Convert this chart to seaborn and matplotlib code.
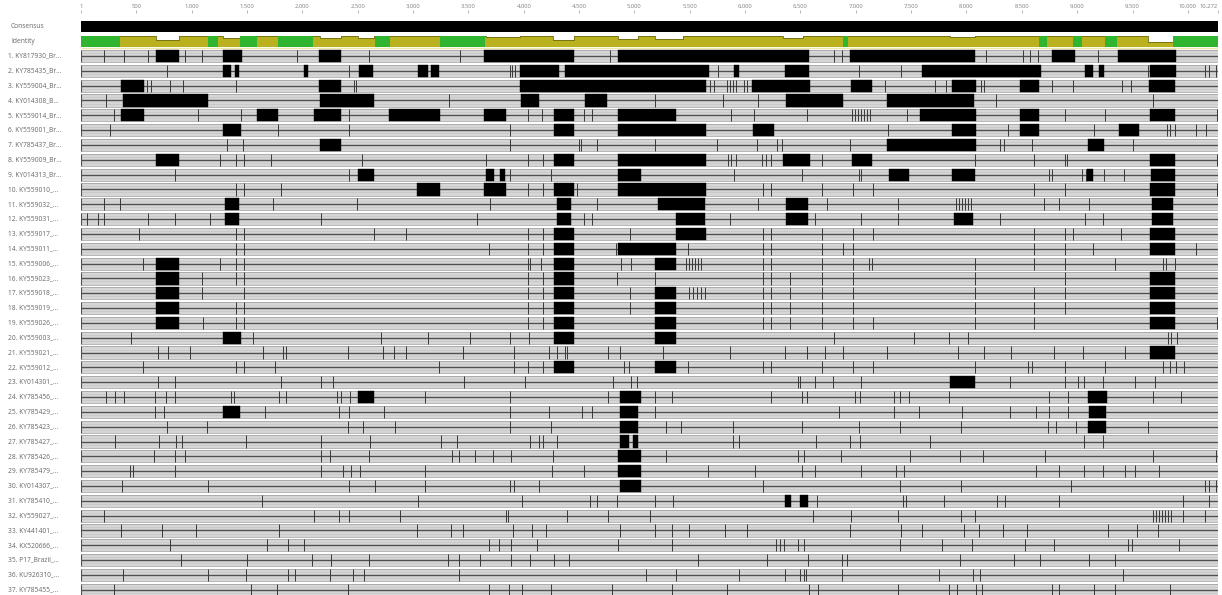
import matplotlib
matplotlib.use("Agg")
import matplotlib.pyplot as plt
import matplotlib.transforms as mtransforms
import seaborn as sns
import numpy as np

# alignment length and ruler
seq_length = 10272
ruler_ticks = [1, 500, 1000, 1500, 2000, 2500, 3000, 3500, 4000, 4500, 5000,
               5500, 6000, 6500, 7000, 7500, 8000, 8500, 9000, 9500, 10000, 10272]

seq_labels = [
    "1. KY817930_Br...", "2. KY785435_Br...", "3. KY559004_Br...", "4. KY014308_B...",
    "5. KY559014_Br...", "6. KY559001_Br...", "7. KY785437_Br...", "8. KY559009_Br...",
    "9. KY014313_Br...", "10. KY559010_...", "11. KY559032_...", "12. KY559031_...",
    "13. KY559017_...", "14. KY559011_...", "15. KY559006_...", "16. KY559023_...",
    "17. KY559018_...", "18. KY559019_...", "19. KY559026_...", "20. KY559003_...",
    "21. KY559021_...", "22. KY559012_...", "23. KY014301_...", "24. KY785456_...",
    "25. KY785429_...", "26. KY785423_...", "27. KY785427_...", "28. KY785426_...",
    "29. KY785479_...", "30. KY014307_...", "31. KY785410_...", "32. KY559027_...",
    "33. KY441401_...", "34. KX520666_...", "35. P17_Brazil_...", "36. KU926310_...",
    "37. KY785455_...",
]

# disagreeing regions (start, end) per sequence
block_spans = [
    [(680, 885), (1283, 1454), (2150, 2350), (3640, 4450), (4850, 6580), (6950, 8080), (8770, 8980), (9370, 9890)],
    [(1283, 1355), (1391, 1427), (2015, 2051), (2511, 2637), (3044, 3134), (3161, 3233), (3965, 4317),
     (4371, 5672), (5897, 5942), (6357, 6574), (7595, 8670), (9067, 9139), (9193, 9238), (9662, 9897)],
    [(362, 570), (2150, 2349), (3965, 5645), (6060, 6583), (6953, 7143), (7866, 8082), (8480, 8652), (9653, 9888)],
    [(380, 1148), (2159, 2647), (3974, 4137), (4553, 4752), (6367, 6882), (7279, 8065)],
    [(362, 570), (1590, 1780), (2105, 2349), (2782, 3243), (3640, 3839), (4272, 4452), (4850, 5374),
     (7577, 8082), (8480, 8652), (9662, 9888)],
    [(1283, 1445), (4272, 4452), (4850, 5645), (6069, 6259), (7866, 8082), (8480, 8652), (9374, 9554)],
    [(2159, 2349), (7279, 8082), (9094, 9238)],
    [(677, 885), (4272, 4452), (4850, 5645), (6340, 6583), (6962, 7143), (9662, 9888)],
    [(2502, 2647), (3659, 3731), (3785, 3830), (4850, 5058), (7297, 7478), (7866, 8074), (9085, 9139), (9671, 9888)],
    [(3035, 3243), (3640, 3839), (4272, 4452), (4850, 5645), (9662, 9888)],
    [(1302, 1428), (4301, 4427), (5213, 5638), (6370, 6568), (9680, 9870)],
    [(1302, 1428), (4301, 4427), (5374, 5638), (6370, 6568), (7884, 8056), (9680, 9870)],
    [(4272, 4452), (5374, 5645), (9662, 9888)],
    [(4272, 4452), (4850, 5374), (9662, 9888)],
    [(677, 885), (4272, 4452), (5186, 5374)],
    [(677, 885), (4272, 4452), (9662, 9888)],
    [(677, 885), (4272, 4452), (5186, 5374), (9662, 9888)],
    [(677, 885), (4272, 4452), (5186, 5374), (9662, 9888)],
    [(677, 885), (4272, 4452), (5186, 5374), (9662, 9888)],
    [(1283, 1445), (4272, 4452), (5186, 5374)],
    [(9662, 9888)],
    [(4272, 4452), (5186, 5374)],
    [(7850, 8074)],
    [(2502, 2647), (4868, 5058), (9094, 9266)],
    [(1283, 1436), (4868, 5031), (9103, 9257)],
    [(4868, 5031), (9094, 9257)],
    [(4868, 4950), (4986, 5031)],
    [(4850, 5058)],
    [(4850, 5058)],
    [(4868, 5058)],
    [(6357, 6412), (6493, 6566)],
    [], [], [], [], [], [],
]

# single-site differences per sequence
snp_sites = [
    [208, 388, 605, 939, 1093, 1951, 2601, 3423, 4777, 6800, 6872, 8172, 8506, 8570, 8642, 9184],
    [777, 2420, 3874, 3892, 3919, 5752, 7025, 7405, 9644, 10159, 10195, 10258],
    [597, 633, 805, 922, 1401, 2466, 2484, 5681, 5717, 5835, 5862, 5889, 5916, 5988, 6015, 7261, 7713,
     7812, 8128, 8155, 8769, 8959, 9401, 9482],
    [227, 3325, 5186, 5800, 6114, 8263, 9681],
    [299, 1058, 1446, 2421, 4037, 4164, 4543, 4615, 5871, 6078, 6557, 6962, 6989, 7016, 7043, 7070, 7097,
     7125, 7460, 8887, 9248, 10259],
    [263, 1780, 2421, 3875, 7288, 8372, 9148, 9807, 9834, 9888, 10069, 10168],
    [1319, 1463, 3875, 4498, 4516, 4660, 5184, 5744, 6105, 6286, 6331, 6945, 8300, 8336, 8590, 9500],
    [1256, 1401, 1473, 1717, 2538, 3658, 4037, 4172, 5843, 5870, 5915, 6150, 6186, 6231, 6692, 8074, 8607,
     8887, 8905, 10259],
    [850, 2421, 3875, 4245, 5898, 6512, 7026, 7044, 8742, 8769, 9040, 9076, 9239, 9420],
    [1401, 1473, 1807, 4037, 4172, 4480, 6160, 6233, 6692, 6972, 7153, 8607, 8887, 10259],
    [209, 353, 1735, 2494, 3695, 4660, 6115, 6738, 7379, 7905, 7932, 7959, 7986, 8013, 8040, 8697, 8832, 9103],
    [55, 155, 209, 606, 850, 1166, 2169, 3577, 4543, 4615, 5862, 6630, 7044, 7379, 8300, 9067, 9230],
    [525, 1401, 1473, 2647, 2936, 4037, 4172, 4958, 6160, 6233, 6692, 6972, 7153, 8607, 8887, 8959, 9392],
    [1401, 1473, 3686, 4037, 4172, 4832, 5482, 6160, 6233, 6692, 6882, 6972, 8607, 8887, 9139, 10069],
    [561, 1256, 1401, 1473, 4037, 4055, 4155, 4878, 4968, 5466, 5493, 5520, 5547, 5574, 5601, 6160, 6233,
     6692, 6972, 7117, 7144, 8074, 8607, 8887, 9338, 9771, 9798, 9888],
    [1093, 1401, 1473, 4037, 4172, 4841, 5186, 6160, 6233, 6405, 6692, 6972, 8074, 8887],
    [1093, 1473, 4037, 4172, 4958, 5493, 5529, 5565, 5601, 5637, 6160, 6233, 6405, 6692, 6972, 8074, 8607, 8887],
    [1401, 1473, 4037, 4172, 4958, 6160, 6233, 6405, 6692, 6972, 8074, 8607, 8887],
    [1102, 1401, 1473, 4037, 4172, 6160, 6233, 6405, 6692, 6972, 7153, 8074, 8607, 10259],
    [453, 1555, 2711, 3135, 3514, 3875, 4046, 6800, 7523, 7839, 8011, 9817, 9844, 9898],
    [696, 786, 985, 1644, 1825, 1852, 2412, 2728, 2828, 2936, 3451, 3911, 4227, 4299, 4371, 4389, 4760,
     4868, 5256, 5862, 6359, 6558, 6720, 6882, 7280, 7921, 8155, 8399, 8788, 9050, 9429],
    [561, 1401, 1473, 1753, 3235, 3911, 4037, 4172, 4905, 4950, 5482, 6160, 6233, 6692, 6972, 7153, 8074,
     8552, 8588, 8887, 9248, 9771, 9834, 9897, 9961],
    [696, 850, 1807, 2169, 2277, 3460, 4011, 4805, 4968, 5022, 6475, 6493, 6630, 6792, 7044, 8390, 8887,
     9004, 9058, 9230, 9519, 9699],
    [227, 308, 389, 669, 768, 850, 1356, 1383, 1789, 1852, 2313, 2349, 2430, 3108, 3875, 4760, 5186, 5338,
     6233, 6512, 6557, 6991, 7036, 7343, 7397, 7478, 7839, 8742, 8914, 9681, 9934],
    [669, 750, 1663, 2331, 2421, 2738, 3875, 4227, 4525, 4615, 5186, 6847, 7343, 7569, 7957, 8390, 8625,
     8742, 8914],
    [777, 1139, 2412, 2547, 2836, 3875, 4245, 5285, 5420, 5890, 6512, 7025, 7397, 7948, 8733, 8805, 8986, 9636],
    [308, 705, 859, 913, 1491, 2169, 2611, 3253, 3397, 4055, 4137, 4172, 4299, 5890, 5944, 6639, 6945, 7036,
     7668, 9058, 9230],
    [660, 850, 940, 2169, 2250, 2602, 3352, 3415, 3560, 3723, 3885, 4263, 5285, 6475, 6530, 6864, 7488,
     7939, 8146, 8706, 9681, 10250],
    [443, 470, 850, 2169, 2367, 2439, 2520, 3108, 4254, 4543, 5665, 6087, 6512, 6630, 7044, 7361, 7434,
     8625, 8832, 9058, 9230, 9429, 9519, 9735],
    [371, 1148, 2421, 2656, 3108, 3875, 3911, 4137, 6160, 7397, 7948, 8943, 10159, 10195, 10258],
    [1636, 3044, 3984, 4597, 4660, 4841, 5186, 5347, 6647, 7424, 7451, 7794, 8273, 8345, 8833, 9953, 10187],
    [208, 2105, 2331, 2421, 2881, 3839, 3857, 4389, 4760, 5140, 6611, 6955, 7379, 7948, 8074, 9689, 9716,
     9743, 9770, 9797, 9824, 9851, 9953, 10159],
    [362, 732, 1039, 1789, 3035, 3342, 3451, 3903, 4073, 4200, 4868, 5186, 5338, 5492, 5817, 6015, 6945,
     7406, 7596, 7975, 8110, 8326, 8543, 9275, 9537, 9726],
    [804, 1681, 1871, 2015, 3687, 3777, 3885, 4120, 4850, 5338, 6278, 6314, 6350, 6476, 6531, 7397, 7776,
     8047, 8525, 8787, 9455, 9491, 9916],
    [904, 1500, 2087, 2259, 2602, 3316, 3415, 3605, 3885, 4057, 4273, 4409, 5574, 6196, 6567, 6875, 6920,
     7940, 8428, 8663, 9106, 9341],
    [380, 1148, 1491, 1871, 1934, 2250, 2458, 2557, 3415, 5104, 5374, 5943, 6359, 6494, 6530, 6548, 6873,
     7749, 8056, 8119, 9411],
    [299, 1537, 1771, 2412, 3686, 3867, 3984, 4245, 4796, 5338, 5835, 6576, 6657, 7379, 7839, 7912, 8083,
     8137, 8769, 8832, 9148, 9338, 9835],
]

# identity track: fully identical stretches and dips in identity
identity_green = [(1, 353), (1148, 1238), (1436, 1590), (1780, 2096), (2656, 2792), (3243, 3650),
                  (6883, 6928), (8655, 8727), (8962, 9043), (9252, 9360), (9865, 10272)]
identity_dips = [(677, 885, 0.6), (1283, 1436, 0.78), (2159, 2349, 0.78), (2502, 2647, 0.82),
                 (3658, 3965, 0.9), (4263, 4452, 0.6), (4850, 5031, 0.72), (5186, 5438, 0.75),
                 (6340, 6521, 0.85), (7850, 8074, 0.9), (9636, 9862, 0.45)]

sns.set_theme(style="white")
plt.rcParams["font.family"] = ["Open Sans", "DejaVu Sans"]

fig = plt.figure(figsize=(12.22, 5.95), dpi=100)
ax = fig.add_axes([81 / 1222, 0, 1137 / 1222, 582 / 595])
ax.set_xlim(1, seq_length)
ax.set_ylim(37.35, -1.9)

half = 0.41
label_tf = mtransforms.blended_transform_factory(fig.transFigure, ax.transData)

# consensus
ax.broken_barh([(1, seq_length - 1)], (-1.36, 0.74), facecolors="black", edgecolors="none")
ax.text(11 / 1222, -0.99, "Consensus", transform=label_tf, ha="left", va="center",
        fontsize=4.8, color="#666666")

# identity
edges, levels = [1], [1.0]
for s, e, lv in sorted(identity_dips):
    edges += [s, e]
    levels += [lv, 1.0]
edges.append(seq_length)
levels.append(1.0)
edges = np.array(edges)
levels = np.array(levels)
bottom = 0.39
top = bottom - 0.74 * levels
ax.fill_between(edges, bottom, top, step="post", color="#bab11e", lw=0)
ax.step(edges, top, where="post", color="#6e6a12", lw=0.6)
ax.broken_barh([(s, e - s) for s, e in identity_green], (bottom - 0.74, 0.74),
               facecolors="#2fb52f", edgecolors="none", zorder=3)
ax.hlines(bottom + 0.05, 1, seq_length, colors="#efe7a8", lw=1.0)
ax.text(11 / 1222, 0.02, "Identity", transform=label_tf, ha="left", va="center",
        fontsize=4.8, color="#666666")

# sequences
for i, (label, spans, sites) in enumerate(zip(seq_labels, block_spans, snp_sites)):
    y = i + 1
    ax.fill_between([1, seq_length], y - half, y + half, color="#d6d6d6", lw=0)
    ax.hlines([y - half, y + half], 1, seq_length, colors="#9a9a9a", lw=0.5)
    ax.hlines([y - half / 2, y + half / 2], 1, seq_length, colors="#c2c2c2", lw=0.4)
    ax.hlines(y, 1, seq_length, colors="#505050", lw=1.0)
    ax.vlines(1, y - half, y + half, colors="#505050", lw=0.8)
    ax.vlines(sites, y - half, y + half, colors="#383838", lw=0.7, zorder=3)
    if spans:
        ax.broken_barh([(s, e - s) for s, e in spans], (y - half, 2 * half),
                       facecolors="black", edgecolors="black", linewidth=0.3, zorder=4)
    ax.text(8 / 1222, y, label, transform=label_tf, ha="left", va="center",
            fontsize=4.8, color="#666666")

# ruler on top
ax.xaxis.tick_top()
ax.set_xticks(ruler_ticks, labels=[f"{t:,}" for t in ruler_ticks])
ax.tick_params(axis="x", top=True, bottom=False, length=2.5, width=0.5, color="#999999",
               labelsize=4.2, labelcolor="#808080", pad=0.5)
ax.get_xticklabels()[-1].set_horizontalalignment("right")
ax.set_yticks([])
for spine in ax.spines.values():
    spine.set_visible(False)

fig.savefig("out.png", dpi=100)
